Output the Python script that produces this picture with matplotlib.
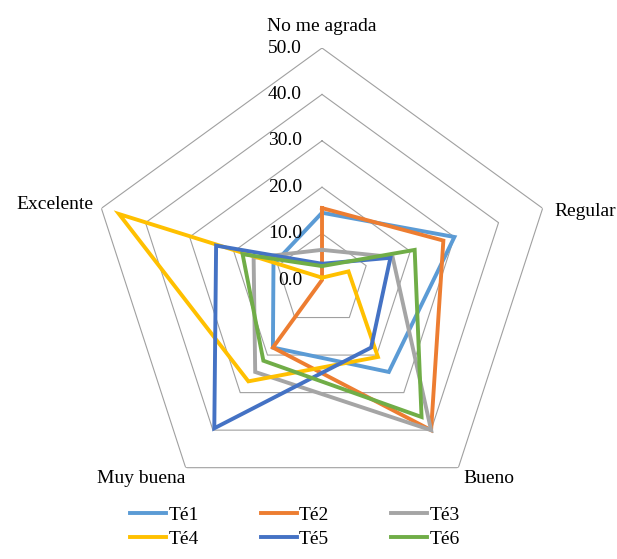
import numpy as np
import matplotlib
matplotlib.use('Agg')
import matplotlib.pyplot as plt
from matplotlib import font_manager

categorias = ["No me agrada", "Regular", "Bueno", "Muy buena", "Excelente"]
series = ["Té1", "Té2", "Té3", "Té4", "Té5", "Té6"]
te1 = [14.5, 30.0, 24.5, 18.0, 11.0]
te2 = [15.5, 27.5, 40.0, 18.0, 0.0]
te3 = [6.5, 16.0, 40.0, 24.5, 15.5]
te4 = [0.5, 6.0, 20.5, 27.0, 46.0]
te5 = [3.5, 15.5, 18.0, 39.5, 24.0]
te6 = [3.0, 21.0, 36.5, 21.5, 18.0]
niveles = [0, 10, 20, 30, 40, 50]

colores = ["#5B9BD5", "#ED7D31", "#A5A5A5", "#FFC000", "#4472C4", "#70AD47"]
FUENTE = 'Liberation Serif'
_ = font_manager.fontManager.ttflist

fig = plt.figure(figsize=(6.17, 5.59), dpi=100)
ax = fig.add_axes([0.1459, 0.0841, 0.752, 0.830], projection='polar')
ax.set_theta_offset(np.pi / 2)
ax.set_theta_direction(-1)
ax.set_ylim(0, 50)
ax.grid(False)
ax.set_xticks([])
ax.set_yticks([])
ax.spines['polar'].set_visible(False)

angulos = np.linspace(0, 2 * np.pi, len(categorias), endpoint=False)
cerrado = np.concatenate([angulos, angulos[:1]])

# anillos pentagonales
for n in niveles[1:]:
    ax.plot(cerrado, [n] * len(cerrado), color="#A0A0A0", lw=0.8, zorder=1)

datos = [te1, te2, te3, te4, te5, te6]
lineas = []
for nombre, vals, c in zip(series, datos, colores):
    v = list(vals) + [vals[0]]
    l, = ax.plot(cerrado, v, color=c, lw=2.8, label=nombre, zorder=3,
                 solid_joinstyle='miter')
    lineas.append(l)


def texto_fig(theta, r, s, dx, dy, ha, va):
    px, py = ax.transData.transform((theta, r))
    fx, fy = fig.transFigure.inverted().transform((px + dx, py + dy))
    fig.text(fx, fy, s, ha=ha, va=va, family=FUENTE, fontsize=14)


# etiquetas del eje
for n in niveles:
    texto_fig(0, n, "%.1f" % n, -20, 0, 'right', 'center')

# etiquetas de categorias
desp = [(0, 22, 'center', 'center'), (12, -3, 'left', 'center'), (5, -2, 'left', 'top'),
        (0, -2, 'right', 'top'), (-8, 4, 'right', 'center')]
for cat, a, (dx, dy, ha, va) in zip(categorias, angulos, desp):
    texto_fig(a, 50, cat, dx, dy, ha, va)

# orden por filas como en Excel
orden = [0, 3, 1, 4, 2, 5]
leg = fig.legend([lineas[i] for i in orden], [series[i] for i in orden],
                 loc='lower center', bbox_to_anchor=(0.478, -0.012), ncol=3, frameon=False,
                 prop=font_manager.FontProperties(family=FUENTE, size=14), handlelength=1.85,
                 handletextpad=0.1, columnspacing=3.2, labelspacing=0.35)

plt.savefig('out.png', dpi=100)
